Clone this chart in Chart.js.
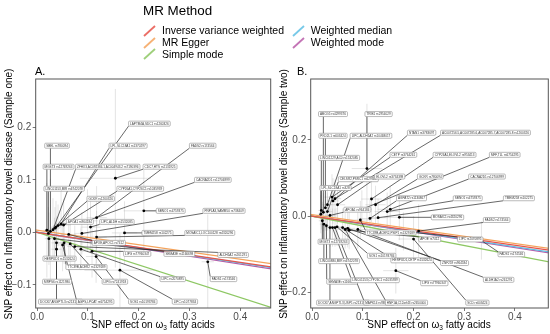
<!DOCTYPE html>
<html>
<head>
<meta charset="utf-8">
<script src="https://cdn.jsdelivr.net/npm/chart.js@4.4.0/dist/chart.umd.min.js"></script>
<style>
  body { margin: 0; background: #fff; font-family: "Liberation Sans", Arial, sans-serif; }
  #wrap { position: relative; width: 550px; height: 334px; overflow: hidden; }
  canvas { position: absolute; top: 0; }
  .t { position: absolute; white-space: nowrap; color: #000; }
  .ytitle { width: 320px; text-align: center; font-size: 10px; line-height: 12px; transform: rotate(-90deg); }
  .xtitle { width: 240px; text-align: center; font-size: 10px; line-height: 12px; }
  .xtitle sub { font-size: 6.5px; vertical-align: -2px; line-height: 0; }
</style>
</head>
<body>
<div id="wrap">
  <canvas id="panelA" width="275" height="334" style="left:0"></canvas>
  <canvas id="panelB" width="275" height="334" style="left:275px"></canvas>
  <div class="t" style="left:143px;top:3px;font-size:13.4px;line-height:16px">MR Method</div>
  <div id="legend"></div>
  <div class="t" style="left:35px;top:65px;font-size:11px;line-height:13px">A.</div>
  <div class="t" style="left:297px;top:65px;font-size:11px;line-height:13px">B.</div>
  <div class="t ytitle" style="left:-151px;top:187.5px">SNP effect on Inflammatory bowel disease (Sample one)</div>
  <div class="t ytitle" style="left:124px;top:187.5px">SNP effect on Inflammatory bowel disease (Sample two)</div>
  <div class="t xtitle" style="left:33px;top:319px">SNP effect on ω<sub>3</sub> fatty acids</div>
  <div class="t xtitle" style="left:309px;top:319px">SNP effect on ω<sub>3</sub> fatty acids</div>
</div>
<script>
// MR methods and fitted lines (slope, intercept)
const methods = ['Inverse variance weighted', 'MR Egger', 'Simple mode', 'Weighted median', 'Weighted mode'];
const methodColors = ['#e8544a', '#f4a35c', '#8dc763', '#5fbfe4', '#b85ba8'];
const slopeA = [-0.143, -0.138, -0.31, -0.146, -0.151];
const interceptA = [0, 0.004, 0, 0, 0];
const slopeB = [-0.191, -0.189, -0.257, -0.2, -0.206];
const interceptB = [0, 0.004, 0, 0, 0];

// ticks
const xTicks = [0, 0.1, 0.2, 0.3, 0.4];
const xTickLabels = ['0.0', '0.1', '0.2', '0.3', '0.4'];
const yTicksA = [-0.1, 0, 0.1, 0.2];
const yTickLabelsA = ['−0.1', '0.0', '0.1', '0.2'];
const yTicksB = [-0.2, 0, 0.2];
const yTickLabelsB = ['−0.2', '0.0', '0.2'];

// Panel A: SNP effects (Sample one)
const snpA = ['LAPTM4A,SDC1 rs1260326', 'SBEL rs780094', 'LPL,SLC18A1 rs1370297', 'FADS2 rs174564',
  'MGST3 rs12749263', 'ZFHX3,AC092384.1,AC004943.2 rs7190396', 'CDC7,HTS rs2131925', 'LINC01153,MIR rs6742078',
  'CYP26A1,CYP26C1 rs1035939', 'CACNA2D1 rs12706999', 'GCKR rs1260326', 'SBNO1 rs4759375',
  'PNPLA3,SAMM50 rs738409', 'APOA1 rs964184', 'LIPC,ALDH rs1532085', 'TMEM258 rs102275',
  'MOSAIC1,LOC100128 rs4320296', 'APOE,APOC1 rs7412', 'LIPG rs77960347', 'SEMA3E rs1166698',
  'ALDH1A2 rs261291', 'HERPUD1 rs1532624', 'TTC39B,ACER2 rs1329189', 'FADS1 rs174546',
  'LIPC rs2070895', 'LIPG rs7241918', 'MRPS6 rs1121980', 'SOS1 rs10193784',
  'LIPC rs1077834', 'DOCK7,ANGPTL3 rs2131925', 'AGPS,LPCAT rs6754295'];
const bxA = [0.037, 0.026, 0.047, 0.117, 0.019, 0.031, 0.154, 0.022, 0.052, 0.099, 0.035, 0.210, 0.088, 0.041, 0.105, 0.172,
  0.117, 0.062, 0.108, 0.034, 0.074, 0.023, 0.053, 0.336, 0.086, 0.065, 0.038, 0.116, 0.163, 0.038, 0.050];
const byA = [0.010, 0.002, 0.016, 0.028, 0.004, 0.005, 0.103, -0.002, 0.014, 0.022, 0.008, 0.041, -0.002, 0.013, 0.010, -0.001,
  -0.009, -0.004, -0.036, -0.012, -0.027, -0.012, -0.020, -0.056, -0.032, -0.022, -0.032, -0.046, -0.072, -0.020, -0.024];
const sxA = [0.010, 0.008, 0.012, 0.020, 0.007, 0.009, 0.070, 0.008, 0.014, 0.020, 0.010, 0.040, 0.015, 0.010, 0.020, 0.025,
  0.020, 0.015, 0.020, 0.010, 0.015, 0.008, 0.012, 0.012, 0.015, 0.012, 0.010, 0.020, 0.070, 0.010, 0.012];
const syA = [0.05, 0.10, 0.07, 0.06, 0.09, 0.06, 0.17, 0.05, 0.05, 0.06, 0.04, 0.08, 0.04, 0.04, 0.05, 0.06,
  0.05, 0.04, 0.05, 0.04, 0.04, 0.05, 0.04, 0.09, 0.04, 0.04, 0.05, 0.05, 0.07, 0.05, 0.05];
// label placement (data units)
const labelXA = [0.221, 0.039, 0.179, 0.326, 0.042, 0.139, 0.242, 0.053, 0.203, 0.346, 0.125, 0.263, 0.368, 0.084, 0.157, 0.237,
  0.340, 0.141, 0.197, 0.280, 0.386, 0.044, 0.097, 0.367, 0.267, 0.153, 0.039, 0.208, 0.291, 0.046, 0.114];
const labelYA = [0.207, 0.165, 0.165, 0.165, 0.125, 0.125, 0.125, 0.083, 0.083, 0.100, 0.064, 0.041, 0.041, 0.020, 0.020, -0.001,
  -0.001, -0.020, -0.041, -0.041, -0.043, -0.050, -0.066, -0.089, -0.089, -0.094, -0.094, -0.132, -0.132, -0.132, -0.132];

// Panel B: SNP effects (Sample two)
const snpB = ['ABCG5 rs4299376', 'TRIB1 rs2954029', 'PKD2L1 rs603424', 'LIPC,ALDH1A2 rs10468017', 'NTAN1 rs3783697',
  'AC007256.5,AC007285.6,AC007285.7,AC007285.8 rs1260326', 'LINC01229,AC0 rs1532085', 'CETP rs3764261',
  'CYP26A1,ELOVL2 rs953413', 'MFF,TLL rs6754295', 'CELSR2,PSRC1 rs629301', 'ELOVL2 rs3734398', 'GCKR rs780094',
  'CACNA2D1 rs12706999', 'LPL,SLC18A1 rs328', 'AGPAT2 rs1130867', 'SBNO1 rs4759375', 'TMEM258 rs102275',
  'APOA1 rs964184', 'MOSAIC1 rs4320296', 'FADS2 rs174564', 'TTC39B,ACER2,PSIP1 rs1329189', 'MGST3 rs12749263',
  'APOE rs7412', 'LIPC rs2070895', 'FADS1 rs174546', 'SOS1 rs10193784', 'HERPUD1,CETP rs1532624', 'ZNF259 rs964184',
  'LINC00880,MIR rs6742078', 'SEMA3E rs1166698', 'LINC01153,CYP26C1 rs1035939', 'LIPG rs77960347', 'ALDH1A2 rs261291',
  'DOCK7,ANGPTL3,USP1 rs2131925', 'MAPK14 rs9380823', 'HNF1A,C12orf43 rs2650000', 'SCD rs603424'];
const bxB = [0.022, 0.108, 0.026, 0.030, 0.041, 0.045, 0.018, 0.039, 0.117, 0.098, 0.030, 0.050, 0.125, 0.154, 0.017, 0.114,
  0.148, 0.130, 0.035, 0.172, 0.210, 0.095, 0.020, 0.073, 0.180, 0.334, 0.049, 0.060, 0.070, 0.023, 0.028, 0.040,
  0.165, 0.090, 0.035, 0.045, 0.065, 0.200];
const byB = [0.010, 0.125, 0.022, 0.030, 0.040, 0.046, 0.015, 0.050, 0.045, 0.018, 0.012, 0.030, 0.030, 0.018, 0.005, -0.006,
  0.012, -0.004, 0.002, -0.003, -0.039, -0.010, -0.012, -0.037, -0.040, -0.064, -0.028, -0.030, -0.032, -0.021, -0.025, -0.030,
  -0.143, -0.035, -0.030, -0.030, -0.035, -0.060];
const sxB = [0.008, 0.030, 0.009, 0.010, 0.012, 0.012, 0.006, 0.015, 0.020, 0.020, 0.010, 0.015, 0.020, 0.025, 0.006, 0.020,
  0.025, 0.020, 0.010, 0.030, 0.030, 0.020, 0.007, 0.015, 0.025, 0.020, 0.012, 0.015, 0.015, 0.008, 0.009, 0.012,
  0.025, 0.015, 0.010, 0.012, 0.015, 0.030];
const syB = [0.05, 0.17, 0.06, 0.05, 0.06, 0.05, 0.05, 0.06, 0.06, 0.05, 0.05, 0.05, 0.05, 0.06, 0.05, 0.05,
  0.05, 0.05, 0.04, 0.06, 0.07, 0.05, 0.05, 0.05, 0.05, 0.05, 0.05, 0.05, 0.05, 0.05, 0.05, 0.05,
  0.06, 0.05, 0.05, 0.05, 0.05, 0.06];
const labelXB = [0.041, 0.131, 0.041, 0.116, 0.216, 0.342, 0.053, 0.180, 0.281, 0.380, 0.091, 0.153, 0.233, 0.345, 0.046, 0.196,
  0.307, 0.408, 0.089, 0.267, 0.364, 0.155, 0.042, 0.232, 0.312, 0.393, 0.137, 0.197, 0.281, 0.053, 0.059, 0.124,
  0.241, 0.368, 0.061, 0.132, 0.186, 0.326];
const labelYB = [0.268, 0.268, 0.211, 0.211, 0.219, 0.219, 0.153, 0.161, 0.161, 0.161, 0.097, 0.104, 0.104, 0.104, 0.074, 0.047,
  0.047, 0.047, 0.017, -0.003, -0.010, -0.043, -0.067, -0.061, -0.061, -0.100, -0.104, -0.116, -0.123, -0.118, -0.172, -0.168,
  -0.176, -0.167, -0.227, -0.227, -0.227, -0.227];

const FONT = '"Liberation Sans", Arial, sans-serif';

// legend
const legend = document.getElementById('legend');
methods.forEach((m, i) => {
  const col = i < 3 ? 0 : 1;
  const row = i < 3 ? i : i - 3;
  const ix = col === 0 ? 143 : 292;
  const tx = col === 0 ? 162 : 310.7;
  const cy = [30.7, 42.7, 54.2][row];
  legend.insertAdjacentHTML('beforeend',
    `<svg style="position:absolute;left:${ix}px;top:${cy - 6}px" width="13" height="12">` +
    `<line x1="1" y1="11" x2="12" y2="1" stroke="${methodColors[i]}" stroke-width="1.8" stroke-opacity="0.85"/></svg>` +
    `<div class="t" style="left:${tx}px;top:${cy - 6.5}px;font-size:10.5px;line-height:13px">${m}</div>`);
});

function marksPlugin(d) {
  return {
    id: 'marks',
    beforeDatasetsDraw(chart) {
      const { ctx, chartArea: a, scales: { x, y } } = chart;
      ctx.save();
      ctx.beginPath();
      ctx.rect(a.left, a.top, a.right - a.left, a.bottom - a.top);
      ctx.clip();
      ctx.strokeStyle = 'rgba(170,170,170,0.45)';
      ctx.lineWidth = 0.7;
      d.bx.forEach((bx, i) => {
        const px = x.getPixelForValue(bx), py = y.getPixelForValue(d.by[i]);
        ctx.beginPath();
        ctx.moveTo(x.getPixelForValue(bx - d.sx[i]), py);
        ctx.lineTo(x.getPixelForValue(bx + d.sx[i]), py);
        ctx.moveTo(px, y.getPixelForValue(d.by[i] - d.sy[i]));
        ctx.lineTo(px, y.getPixelForValue(d.by[i] + d.sy[i]));
        ctx.stroke();
      });
      ctx.restore();
    },
    afterDatasetsDraw(chart) {
      const { ctx, chartArea: a, scales: { x, y } } = chart;
      ctx.save();
      ctx.font = '3.1px ' + FONT;
      const boxes = d.names.map((n, i) => {
        const w = ctx.measureText(n).width + 3, h = 5;
        const cx = x.getPixelForValue(d.lx[i]), cy = y.getPixelForValue(d.ly[i]);
        return { n, l: cx - w / 2, t: cy - h / 2, w, h, cx, cy };
      });
      // leader segments
      ctx.strokeStyle = '#262626';
      ctx.lineWidth = 0.7;
      boxes.forEach((b, i) => {
        const px = x.getPixelForValue(d.bx[i]), py = y.getPixelForValue(d.by[i]);
        const nx = Math.min(Math.max(px, b.l), b.l + b.w);
        const ny = Math.min(Math.max(py, b.t), b.t + b.h);
        ctx.beginPath();
        ctx.moveTo(px, py);
        ctx.lineTo(nx, ny);
        ctx.stroke();
      });
      // points on top of segments
      ctx.fillStyle = '#000';
      d.bx.forEach((bx, i) => {
        ctx.beginPath();
        ctx.arc(x.getPixelForValue(bx), y.getPixelForValue(d.by[i]), 1.4, 0, Math.PI * 2);
        ctx.fill();
      });
      // label boxes
      ctx.textAlign = 'center';
      ctx.textBaseline = 'middle';
      boxes.forEach(b => {
        ctx.beginPath();
        ctx.roundRect(b.l, b.t, b.w, b.h, 1);
        ctx.fillStyle = '#fff';
        ctx.fill();
        ctx.strokeStyle = '#8c8c8c';
        ctx.lineWidth = 0.6;
        ctx.stroke();
        ctx.fillStyle = '#3a3a3a';
        ctx.fillText(b.n, b.cx, b.cy + 0.2);
      });
      // panel frame
      ctx.strokeStyle = '#555';
      ctx.lineWidth = 1;
      ctx.strokeRect(a.left, a.top, a.right - a.left, a.bottom - a.top);
      ctx.restore();
    }
  };
}

function buildPanel(id, d, slopes, intercepts, xMax, yMin, yMax, yTicks, yTickLabels, padRight) {
  const lineSets = methods.map((m, i) => ({
    type: 'line',
    label: m,
    data: [-0.05, 0.5].map(xv => ({ x: xv, y: intercepts[i] + slopes[i] * xv })),
    borderColor: methodColors[i],
    borderWidth: 1.3,
    pointRadius: 0,
    fill: false,
    order: 1
  }));
  new Chart(document.getElementById(id), {
    type: 'scatter',
    data: { datasets: lineSets },
    options: {
      responsive: false,
      animation: false,
      devicePixelRatio: 1,
      layout: { padding: { top: 79, right: padRight, left: 0, bottom: 0 } },
      plugins: { legend: { display: false }, tooltip: { enabled: false } },
      scales: {
        x: {
          type: 'linear', min: -0.003, max: xMax,
          afterBuildTicks: s => { s.ticks = xTicks.map(v => ({ value: v })); },
          afterFit: s => { s.height = 26; },
          grid: { drawOnChartArea: false, tickLength: 3, color: '#555', lineWidth: 0.8 },
          border: { display: false },
          ticks: { color: '#4d4d4d', padding: 0, maxRotation: 0, autoSkip: false,
            font: { size: 10, family: FONT }, callback: (v, i) => xTickLabels[i] }
        },
        y: {
          type: 'linear', min: yMin, max: yMax,
          afterBuildTicks: s => { s.ticks = yTicks.map(v => ({ value: v })); },
          afterFit: s => { s.width = 35.7; },
          grid: { drawOnChartArea: false, tickLength: 3, color: '#555', lineWidth: 0.8 },
          border: { display: false },
          ticks: { color: '#4d4d4d', padding: 1.5, autoSkip: false,
            font: { size: 10, family: FONT }, callback: (v, i) => yTickLabels[i] }
        }
      }
    },
    plugins: [marksPlugin(d)]
  });
}

buildPanel('panelA',
  { names: snpA, bx: bxA, by: byA, sx: sxA, sy: syA, lx: labelXA, ly: labelYA },
  slopeA, interceptA, 0.46, -0.144, 0.292, yTicksA, yTickLabelsA, 4.3);
buildPanel('panelB',
  { names: snpB, bx: bxB, by: byB, sx: sxB, sy: syB, lx: labelXB, ly: labelYB },
  slopeB, interceptB, 0.466, -0.241, 0.36, yTicksB, yTickLabelsB, 1.7);
</script>
</body>
</html>
